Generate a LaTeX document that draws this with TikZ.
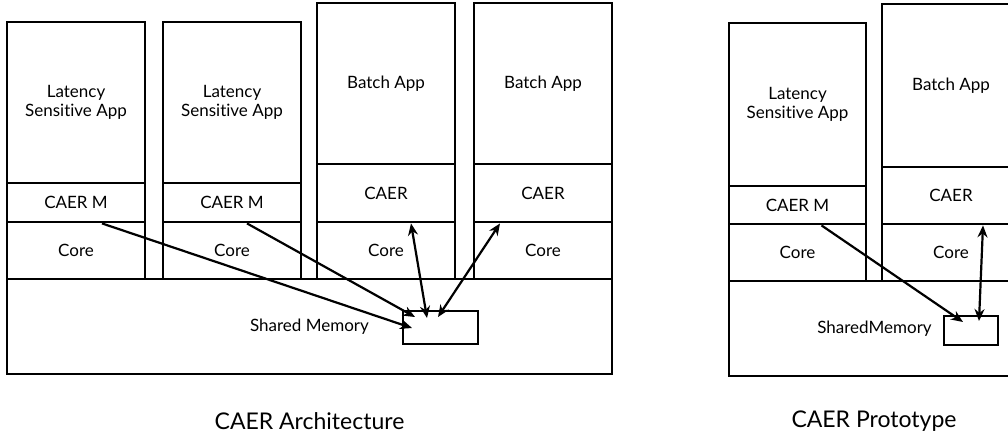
\documentclass[tikz,border=0pt]{standalone}
\usepackage{fontspec}
\setmainfont{Lato}[Ligatures=NoCommon]
\usetikzlibrary{arrows.meta}

\tikzset{
  blk/.style={draw, line width=2.8pt, inner sep=0pt, align=center, font=\fontsize{17}{19.5}\selectfont},
  link/.style={line width=2.2pt, -{Stealth[length=12pt,width=10pt]}},
  dlink/.style={line width=2.2pt, {Stealth[length=12pt,width=10pt]}-{Stealth[length=12pt,width=10pt]}},
  caption/.style={font=\fontsize{23}{27}\selectfont}
}

\begin{document}
\begin{tikzpicture}[x=1pt,y=-1pt]
    \useasboundingbox (0,0) rectangle (1008,437);
    \clip (0,0) rectangle (1008,437);
    % Draw the latency sensitive columns
    \foreach \x/\n in {7/a, 163/b}{
      \node[blk, minimum width=138pt, minimum height=161pt] (app\n) at (\x+69,102.5) {Latency\\Sensitive App};
      \node[blk, minimum width=138pt, minimum height=39pt] (cm\n) at (\x+69,202.5) {CAER M};
      \node[blk, minimum width=138pt, minimum height=57pt] (core\n) at (\x+69,250.5) {Core};
    }
    % Draw the batch columns
    \foreach \x/\n in {317/c, 474/d}{
      \node[blk, minimum width=138pt, minimum height=161pt] (app\n) at (\x+69,83.5) {Batch App};
      \node[blk, minimum width=138pt, minimum height=58pt] (cm\n) at (\x+69,193) {CAER};
      \node[blk, minimum width=138pt, minimum height=57pt] (core\n) at (\x+69,250.5) {Core};
    }
    % Draw the shared memory
    \node[blk, minimum width=605pt, minimum height=95pt] (mem) at (309.5,326.5) {Shared Memory};
    \node[blk, minimum width=75pt, minimum height=33pt] (slot) at (440.5,327.5) {};
    \node[caption] (archcap) at (309.5,421) {CAER Architecture};

    % Draw the prototype
    \node[blk, minimum width=137pt, minimum height=163pt] (appp) at (797.5,104.5) {Latency\\Sensitive App};
    \node[blk, minimum width=137pt, minimum height=38pt] (cmp) at (797.5,205) {CAER M};
    \node[blk, minimum width=137pt, minimum height=57pt] (corep) at (797.5,252.5) {Core};
    \node[blk, minimum width=138pt, minimum height=163pt] (appq) at (951,85.5) {Batch App};
    \node[blk, minimum width=138pt, minimum height=57pt] (cmq) at (951,195.5) {CAER};
    \node[blk, minimum width=138pt, minimum height=57pt] (coreq) at (951,252.5) {Core};
    \node[blk, minimum width=291pt, minimum height=95pt] (memp) at (874.5,328.5) {SharedMemory};
    \node[blk, minimum width=54pt, minimum height=29pt] (slotp) at (971,330.5) {};
    \node[caption] (protocap) at (874,421) {CAER Prototype};

    % Draw the links into the memory slots
    \coordinate (ta) at (412,328);
    \coordinate (tb) at (415,317);
    \coordinate (tc) at (427,318);
    \coordinate (td) at (438,317);
    \coordinate (tp) at (963,322);
    \coordinate (tq) at (979,321);
    \draw[link] ([xshift=26pt]cma.south) -- (ta);
    \draw[link] ([xshift=15pt]cmb.south) -- (tb);
    \draw[dlink] ([xshift=25pt]cmc.south) -- (tc);
    \draw[dlink] ([xshift=-43pt]cmd.south) -- (td);
    \draw[link] ([xshift=24pt]cmp.south) -- (tp);
    \draw[dlink] ([xshift=32pt]cmq.south) -- (tq);
\end{tikzpicture}
\end{document}
